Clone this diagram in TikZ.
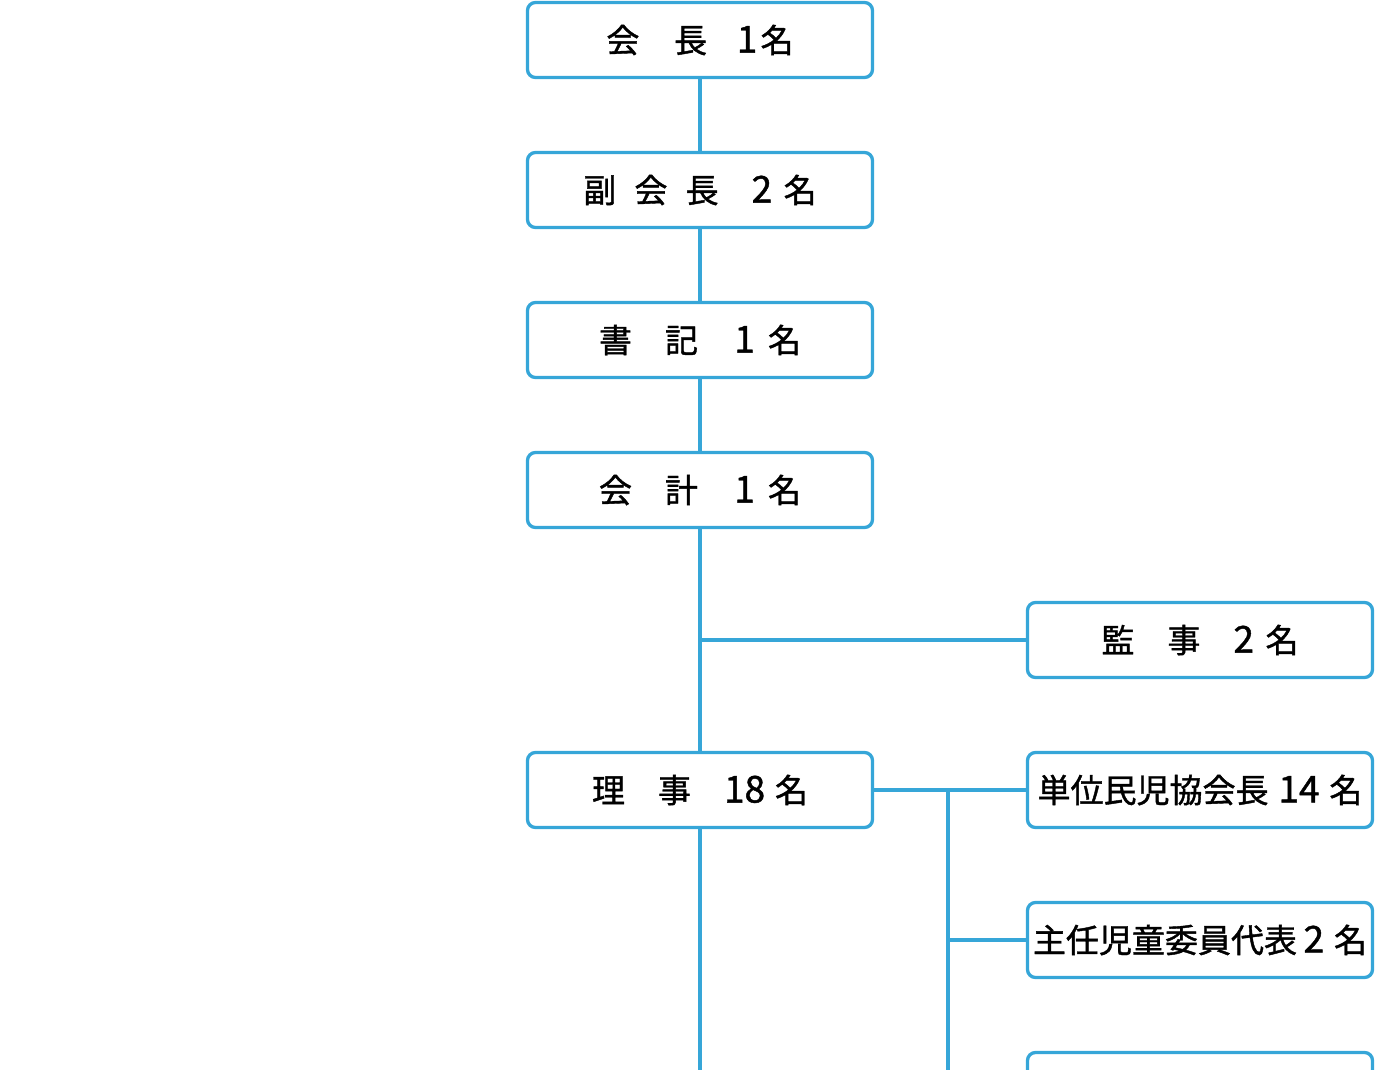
\documentclass[tikz,border=0pt]{standalone}
\usepackage{fontspec}
\newfontfamily\jp[FakeBold=1.2]{Noto Sans CJK JP}
\newcommand{\dg}[1]{{\fontsize{37}{33}\selectfont #1}}
\definecolor{lineblue}{HTML}{36A6D8}
\begin{document}
\begin{tikzpicture}[x=1pt,y=-1pt,
  box/.style={draw=lineblue,line width=3.3pt,rounded corners=8pt,minimum width=345pt,minimum height=75pt,inner sep=0pt,fill=white,font=\jp\fontsize{33}{33}\selectfont},
  conn/.style={draw=lineblue,line width=3.3pt}]
\useasboundingbox (0,0) rectangle (1400,1070);
\clip (0,0) rectangle (1400,1070);
\node[box] (kaicho) at (700,40) {会\hspace{1.05em}長\hspace{0.9em}\dg{1}\hspace{0.1em}名};
\node[box] (fuku) at (700,190) {副\hspace{0.55em}会\hspace{0.55em}長\hspace{1em}\dg{2}\hspace{0.35em}名};
\node[box] (shoki) at (700,340) {書\hspace{1em}記\hspace{1.1em}\dg{1}\hspace{0.4em}名};
\node[box] (kaikei) at (700,490) {会\hspace{1em}計\hspace{1.1em}\dg{1}\hspace{0.4em}名};
\node[box] (kanji) at (1200,640) {監\hspace{1em}事\hspace{1em}\dg{2}\hspace{0.35em}名};
\node[box] (riji) at (700,790) {理\hspace{1em}事\hspace{1em}\dg{18}\hspace{0.3em}名};
\node[box] (tani) at (1200,790) {単位民児協会長\hspace{0.3em}\dg{14}\hspace{0.3em}名};
\node[box] (shunin) at (1200,940) {主任児童委員代表\hspace{0.2em}\dg{2}\hspace{0.3em}名};
\node[box] (third) at (1200,1090) {};
\coordinate (kj) at (700,640);
\coordinate (br) at (948,790);
\coordinate (brs) at (948,940);
\coordinate (brt) at (948,1090);
\coordinate (mainend) at (700,1080);
\path[conn] (kaicho) -- (fuku);
\path[conn] (fuku) -- (shoki);
\path[conn] (shoki) -- (kaikei);
\path[conn] (kaikei) -- (riji);
\path[conn] (kj) -- (kanji);
\path[conn] (riji) -- (tani);
\path[conn] (br) -- (brt);
\path[conn] (brs) -- (shunin);
\path[conn] (brt) -- (third);
\path[conn] (riji) -- (mainend);
\end{tikzpicture}
\end{document}
